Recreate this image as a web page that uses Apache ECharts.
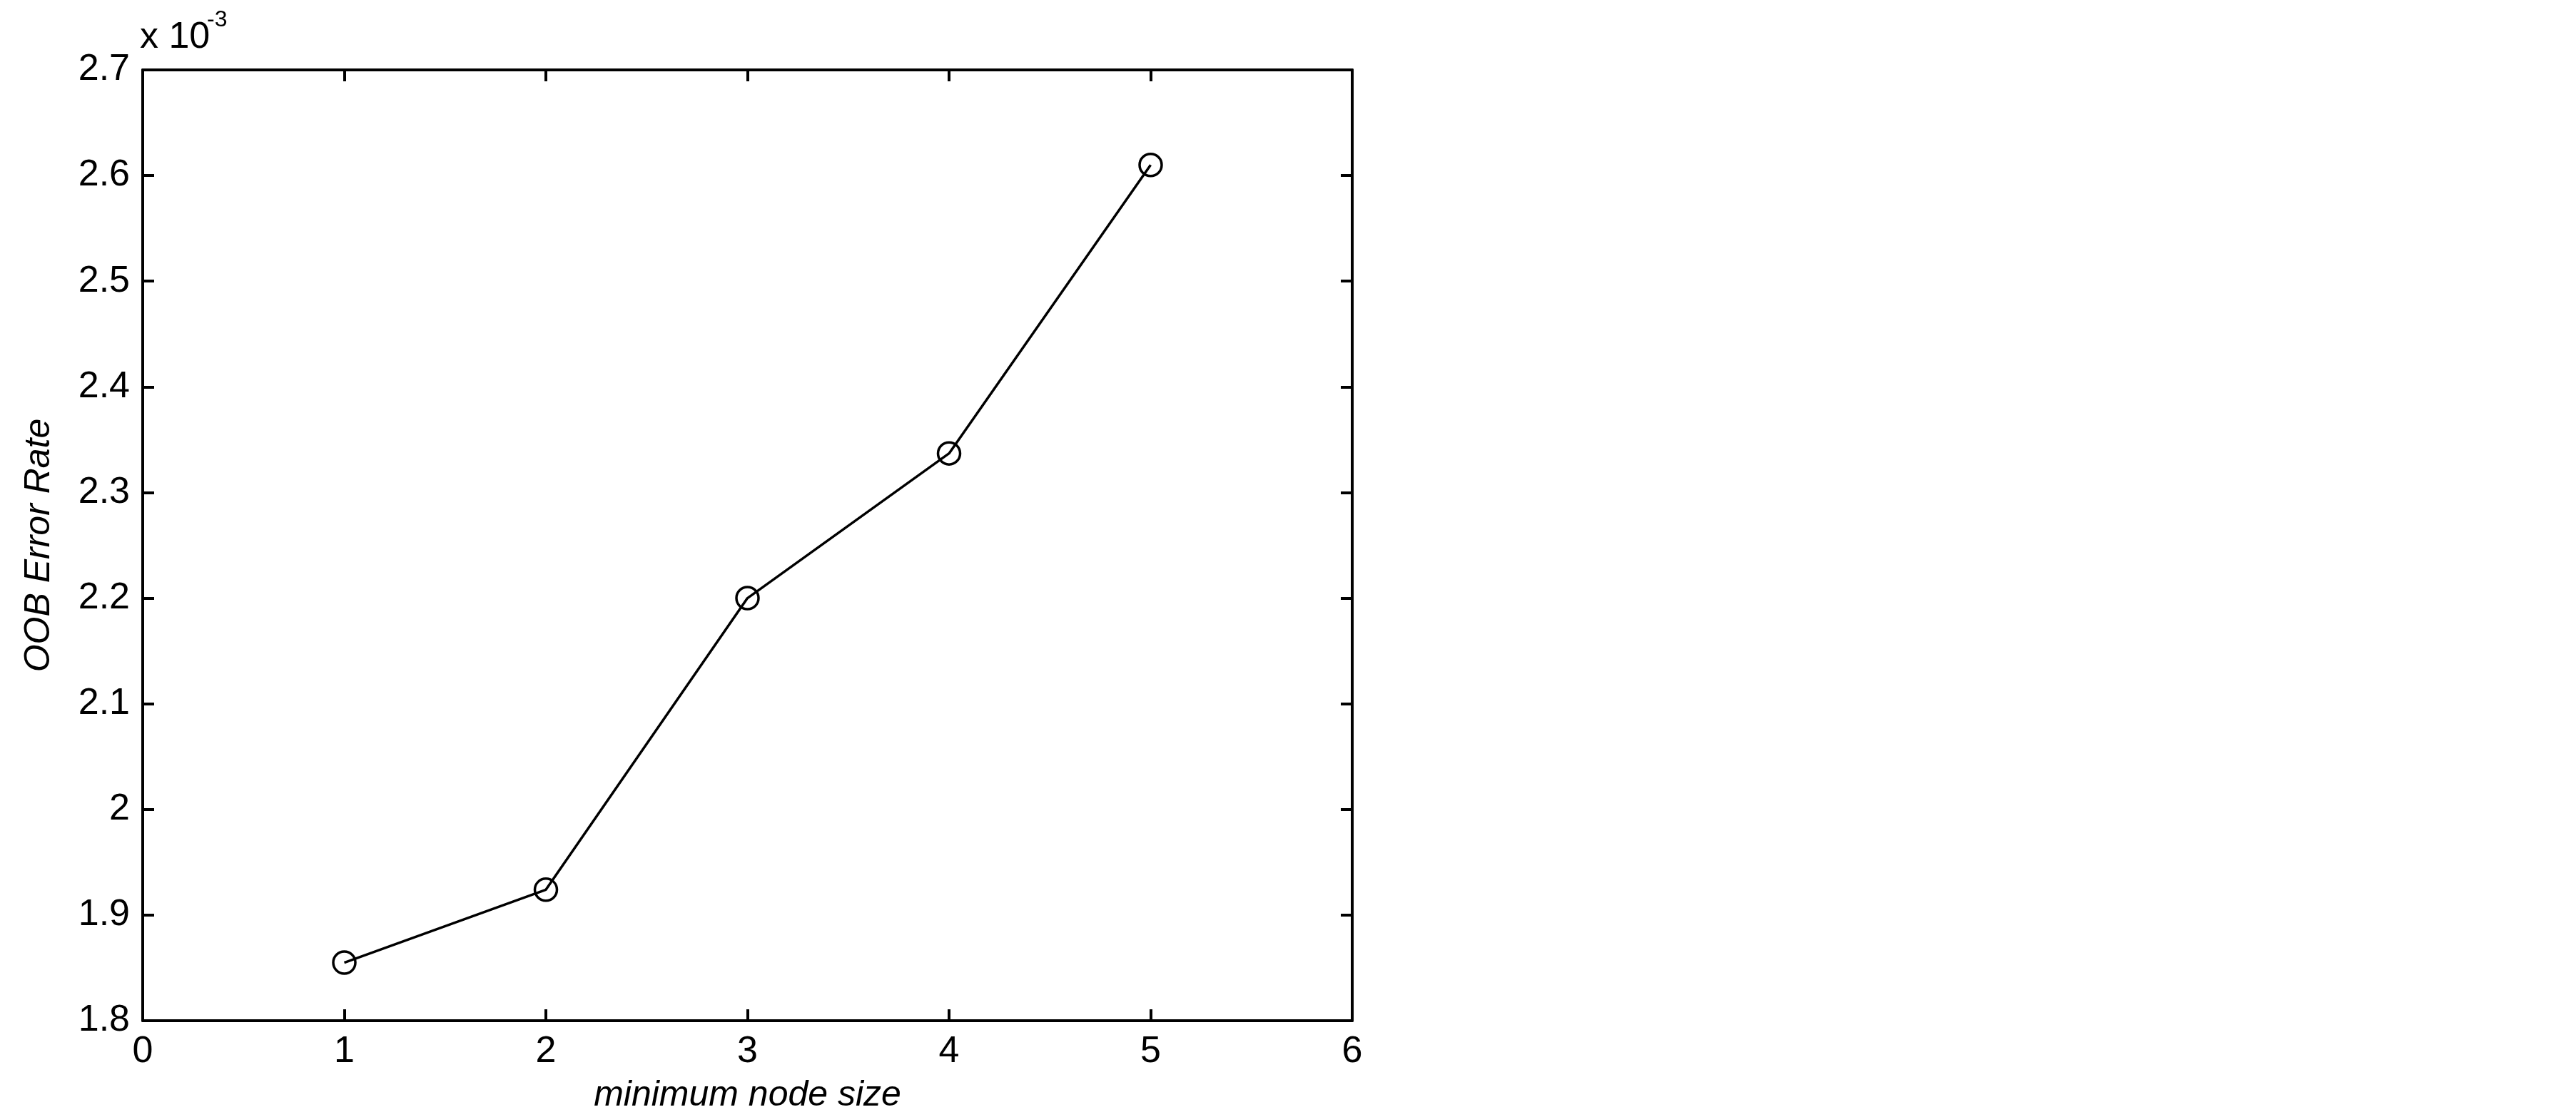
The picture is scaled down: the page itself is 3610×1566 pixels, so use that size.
<!DOCTYPE html>
<html>
<head>
<meta charset="utf-8">
<script src="https://cdn.jsdelivr.net/npm/echarts@6/dist/echarts.min.js"></script>
<style>
  html, body { margin: 0; padding: 0; background: #fff; }
  #chart-main { width: 3610px; height: 1566px; }
</style>
</head>
<body>
<div id="chart-main"></div>
<script>
// minimum node size vs OOB error rate (values in units of 1e-3)
const nodeSizes = [1, 2, 3, 4, 5]
const oobError = [1.855, 1.924, 2.2, 2.337, 2.61]

const xTicks = { min: 0, max: 6, interval: 1 }
const yTicks = { min: 1.8, max: 2.7, interval: 0.1 }

const font = "'Liberation Sans', Arial, Helvetica, sans-serif"
const black = '#000'

const boxLine = { show: true, onZero: false, lineStyle: { color: black, width: 4 } }
const innerTick = { show: true, inside: true, length: 16, lineStyle: { color: black, width: 4 } }

const myChart = echarts.init(document.getElementById('chart-main'))
myChart.setOption({
  backgroundColor: '#fff',
  animation: false,
  grid: { left: 200, right: 1715, top: 98, bottom: 134, containLabel: false },
  xAxis: [
    {
      type: 'value',
      ...xTicks,
      position: 'bottom',
      axisLine: boxLine,
      axisTick: innerTick,
      splitLine: { show: false },
      axisLabel: { color: black, fontSize: 52, fontFamily: font, margin: 18 },
      name: 'minimum node size',
      nameLocation: 'middle',
      nameGap: 80,
      nameTextStyle: { color: black, fontSize: 50, fontStyle: 'italic', fontFamily: font }
    },
    {
      type: 'value',
      ...xTicks,
      position: 'top',
      axisLine: boxLine,
      axisTick: innerTick,
      splitLine: { show: false },
      axisLabel: { show: false }
    }
  ],
  yAxis: [
    {
      type: 'value',
      ...yTicks,
      position: 'left',
      axisLine: boxLine,
      axisTick: innerTick,
      splitLine: { show: false },
      axisLabel: { color: black, fontSize: 52, fontFamily: font, margin: 18 },
      name: 'OOB Error Rate',
      nameLocation: 'middle',
      nameGap: 120,
      nameRotate: 90,
      nameTextStyle: { color: black, fontSize: 50, fontStyle: 'italic', fontFamily: font }
    },
    {
      type: 'value',
      ...yTicks,
      position: 'right',
      axisLine: boxLine,
      axisTick: innerTick,
      splitLine: { show: false },
      axisLabel: { show: false }
    }
  ],
  // the "x 10^-3" multiplier above the y axis
  graphic: [
    {
      type: 'text',
      left: 196,
      top: 27,
      style: { text: 'x 10', fill: black, font: '52px ' + font }
    },
    {
      type: 'text',
      left: 290,
      top: 12,
      style: { text: '-3', fill: black, font: '32px ' + font }
    }
  ],
  series: [
    {
      type: 'line',
      xAxisIndex: 0,
      yAxisIndex: 0,
      data: nodeSizes.map((x, i) => [x, oobError[i]]),
      symbol: 'circle',
      symbolSize: 31,
      lineStyle: { color: black, width: 3.5 },
      itemStyle: { color: 'rgba(0,0,0,0)', borderColor: black, borderWidth: 3.5 },
      z: 3
    }
  ]
})
</script>
</body>
</html>
